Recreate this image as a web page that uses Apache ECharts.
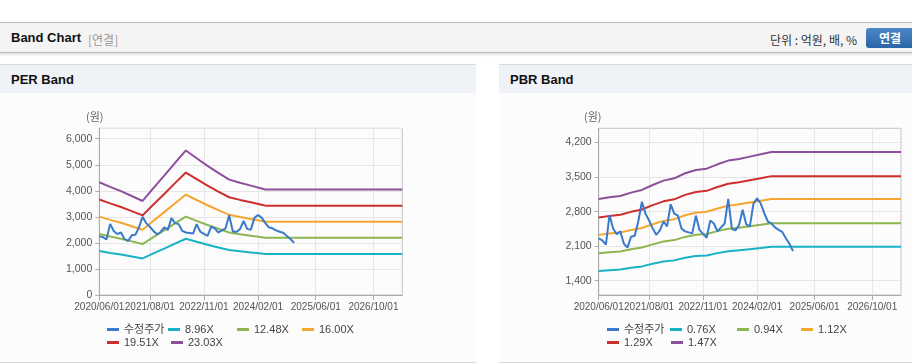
<!DOCTYPE html>
<html><head><meta charset="utf-8">
<script src="https://cdn.jsdelivr.net/npm/echarts@6/dist/echarts.min.js"></script>
<style>
html,body{margin:0;padding:0;width:912px;height:364px;overflow:hidden;background:#fff;font-family:'Liberation Sans','Noto Sans CJK KR',sans-serif;}
.abs{position:absolute;}
#topline{left:0;top:22px;width:912px;height:1px;background:#bdbdbd;}
#hdr{left:0;top:23px;width:912px;height:29px;background:#f4f4f4;border-bottom:1px solid #bdbdbd;box-shadow:0 2px 2px rgba(0,0,0,0.12);}
#hdrTitle{left:11px;top:30px;font-size:13px;font-weight:bold;color:#111;white-space:nowrap;}
#hdrSub{left:88px;top:31px;font-size:12px;color:#999;font-family:'Noto Sans CJK KR',sans-serif;}
#unit{left:770px;top:31px;font-size:12px;color:#333;font-family:'Noto Sans CJK KR',sans-serif;white-space:nowrap;}
#btn{left:866px;top:28px;width:50px;height:20px;border-radius:3px;background:linear-gradient(#4a87c8,#2b65a9);color:#fff;font-weight:bold;font-size:12px;line-height:20px;text-align:left;padding-left:13px;box-sizing:border-box;font-family:'Noto Sans CJK KR',sans-serif;}
.panel{top:64px;height:297px;border-top:1px solid #d9d9d9;border-bottom:1px solid #d9d9d9;background:#fcfcfc;}
.ptitle{top:65px;height:28px;background:#eff2f6;}
.ptext{top:72px;font-size:13px;font-weight:bold;color:#111;}
#chart{left:0;top:0;width:912px;height:364px;}
</style></head>
<body>
<div class="abs" id="topline"></div>
<div class="abs" id="hdr"></div>
<div class="abs" id="hdrTitle">Band Chart</div>
<div class="abs" id="hdrSub">[연결]</div>
<div class="abs" id="unit">단위 : 억원, 배, %</div>
<div class="abs" id="btn">연결</div>
<div class="abs panel" style="left:0;width:476px;"></div>
<div class="abs panel" style="left:499px;width:413px;"></div>
<div class="abs ptitle" style="left:0;width:476px;"></div>
<div class="abs ptitle" style="left:499px;width:413px;"></div>
<div class="abs ptext" style="left:11px;">PER Band</div>
<div class="abs ptext" style="left:510px;">PBR Band</div>
<div class="abs" id="chart"></div>
<script>
// monthly categories 2020/06 .. 2027/06
const categories = [];
for (let y = 2020, m = 6; ; m++) {
  if (m > 12) { m = 1; y++; }
  if (y > 2027 || (y === 2027 && m > 6)) break;
  categories.push(y + '/' + String(m).padStart(2, '0') + '/01');
}
const tickLabels = ['2020/06/01','2021/08/01','2022/11/01','2024/02/01','2025/06/01','2026/10/01'];

// 수정주가 (monthly, 2020/06 .. 2024/12)
const price = [2260,2220,2130,2730,2460,2340,2400,2150,2070,2290,
               2310,2600,3000,2760,2620,2460,2330,2420,2600,2500,
               2950,2760,2720,2460,2400,2380,2360,2720,2430,2350,
               2270,2620,2560,2400,2480,2560,3060,2450,2420,2530,
               2840,2540,2500,2960,3070,2970,2770,2600,2560,2480,
               2430,2390,2260,2150,2000];

// PER band knots
const perDates = ['2020/06/01','2020/09/01','2020/12/01','2021/03/01','2021/06/01','2021/09/01','2021/12/01','2022/03/01','2022/06/01','2022/09/01','2022/12/01','2023/03/01','2023/06/01','2023/09/01','2023/12/01','2024/03/01','2024/04/01','2027/06/01'];
const per896  = [1685,1615,1553,1479,1405,1596,1782,1973,2160,2043,1930,1825,1724,1677,1634,1591,1576,1576];
const per1248 = [2346,2249,2162,2059,1956,2222,2482,2747,3008,2845,2688,2542,2401,2336,2276,2216,2195,2195];
const per1600 = [3008,2883,2772,2640,2508,2849,3182,3522,3856,3647,3446,3258,3078,2994,2918,2841,2814,2814];
const per1951 = [3668,3516,3380,3219,3058,3474,3880,4295,4702,4448,4202,3973,3753,3651,3558,3465,3431,3431];
const per2303 = [4330,4150,3990,3800,3610,4100,4580,5070,5550,5250,4960,4690,4430,4310,4200,4090,4050,4050];

// PBR band knots
const pbrDates = ['2020/06/01','2020/09/01','2020/12/01','2021/03/01','2021/06/01','2021/09/01','2021/12/01','2022/03/01','2022/06/01','2022/09/01','2022/12/01','2023/03/01','2023/06/01','2023/09/01','2023/12/01','2024/03/01','2024/06/01','2027/06/01'];
const pbr076 = [1595,1613,1627,1662,1690,1742,1788,1812,1865,1899,1913,1959,1998,2015,2040,2064,2089,2089];
const pbr094 = [1955,1977,1994,2037,2072,2136,2193,2223,2288,2331,2348,2405,2452,2474,2504,2534,2565,2565];
const pbr112 = [2329,2355,2376,2427,2469,2545,2613,2648,2726,2777,2798,2865,2922,2948,2984,3020,3056,3056];
const pbr129 = [2683,2713,2736,2796,2843,2932,3009,3050,3140,3199,3222,3300,3366,3395,3437,3478,3520,3520];
const pbr147 = [3057,3091,3118,3186,3240,3341,3429,3476,3578,3645,3672,3760,3835,3869,3916,3963,4011,4011];

const pbrTicks = [1400,2100,2800,3500,4200];

const C = {price:'#3a7acb', c1:'#18b2c5', c2:'#8db550', c3:'#f5a631', c4:'#cd2f2c', c5:'#8d4f9c'};
const FONT = "'Liberation Sans','Noto Sans CJK KR',sans-serif";
const fmt = v => Number(v).toLocaleString('en-US');
const isTick = (i, v) => tickLabels.indexOf(v) >= 0;

function xAxis(gi) {
  return {
    type: 'category', gridIndex: gi, data: categories, boundaryGap: false,
    axisLine: {lineStyle: {color: '#aaa'}},
    axisTick: {show: true, interval: isTick, length: 5, lineStyle: {color: '#aaa'}},
    axisLabel: {interval: isTick, color: '#555', fontSize: 10, fontFamily: FONT, margin: 7,
                showMinLabel: true, hideOverlap: false},
    splitLine: {show: true, interval: isTick, lineStyle: {color: '#e6e6e6'}}
  };
}
function pairs(dates, vals) { return dates.map((d, i) => [d, vals[i]]); }
function band(name, color, gi, dates, vals) {
  return {name, type: 'line', xAxisIndex: gi, yAxisIndex: gi, data: pairs(dates, vals),
    showSymbol: false, symbol: 'none', lineStyle: {width: 2, color}, itemStyle: {color}, z: 2};
}
function priceSeries(gi) {
  return {name: '수정주가', type: 'line', xAxisIndex: gi, yAxisIndex: gi, data: price,
    showSymbol: false, symbol: 'none', lineStyle: {width: 2, color: C.price}, itemStyle: {color: C.price}, z: 5};
}
function legendItem(left, top, name) {
  return {left, top, data: [name], itemGap: 0, itemWidth: 12, itemHeight: 3, icon: 'rect', padding: 0,
    textStyle: {fontSize: 11, color: '#444', fontFamily: FONT}};
}
// legend layout: [left, top, name]
const legendLayout = [
  [107, 324, '수정주가'], [168, 324, '8.96X'], [237, 324, '12.48X'], [302, 324, '16.00X'],
  [107, 337, '19.51X'], [171, 337, '23.03X'],
  [607, 324, '수정주가'], [670, 324, '0.76X'], [737, 324, '0.94X'], [801, 324, '1.12X'],
  [607, 337, '1.29X'], [671, 337, '1.47X']
];

const chart = echarts.init(document.getElementById('chart'), null, {renderer: 'canvas'});
chart.setOption({
  animation: false,
  backgroundColor: 'transparent',
  textStyle: {fontFamily: FONT},
  grid: [
    {left: 99.3, top: 128.3, width: 303, height: 166.7, show: true, borderColor: '#c4c4c4', borderWidth: 1, containLabel: false},
    {left: 598.7, top: 128.3, width: 302.3, height: 166.7, show: true, borderColor: '#c4c4c4', borderWidth: 1, containLabel: false}
  ],
  xAxis: [xAxis(0), xAxis(1)],
  yAxis: [
    {type: 'value', gridIndex: 0, min: 0, max: 6400, interval: 1000,
     axisLine: {show: true, lineStyle: {color: '#aaa'}},
     axisTick: {show: true, length: 4, lineStyle: {color: '#aaa'}},
     axisLabel: {color: '#555', fontSize: 10.5, margin: 7, showMaxLabel: false, formatter: fmt, fontFamily: FONT},
     splitLine: {lineStyle: {color: '#e6e6e6'}}},
    {type: 'value', gridIndex: 1, min: 1110, max: 4490,
     axisLine: {show: true, lineStyle: {color: '#aaa'}},
     axisTick: {show: true, length: 4, customValues: pbrTicks, lineStyle: {color: '#aaa'}},
     axisLabel: {color: '#555', fontSize: 10.5, margin: 7, customValues: pbrTicks, formatter: fmt, fontFamily: FONT},
     splitLine: {lineStyle: {color: '#e6e6e6'}}}
  ],
  legend: legendLayout.map(l => legendItem(l[0], l[1], l[2])),
  graphic: [
    {type: 'text', left: 86, top: 111, style: {text: '(원)', fontSize: 11, fill: '#666', fontFamily: "'Noto Sans CJK KR',sans-serif"}},
    {type: 'text', left: 584, top: 111, style: {text: '(원)', fontSize: 11, fill: '#666', fontFamily: "'Noto Sans CJK KR',sans-serif"}}
  ],
  series: [
    band('8.96X', C.c1, 0, perDates, per896),
    band('12.48X', C.c2, 0, perDates, per1248),
    band('16.00X', C.c3, 0, perDates, per1600),
    band('19.51X', C.c4, 0, perDates, per1951),
    band('23.03X', C.c5, 0, perDates, per2303),
    priceSeries(0),
    band('0.76X', C.c1, 1, pbrDates, pbr076),
    band('0.94X', C.c2, 1, pbrDates, pbr094),
    band('1.12X', C.c3, 1, pbrDates, pbr112),
    band('1.29X', C.c4, 1, pbrDates, pbr129),
    band('1.47X', C.c5, 1, pbrDates, pbr147),
    priceSeries(1)
  ]
});
</script>
</body></html>
